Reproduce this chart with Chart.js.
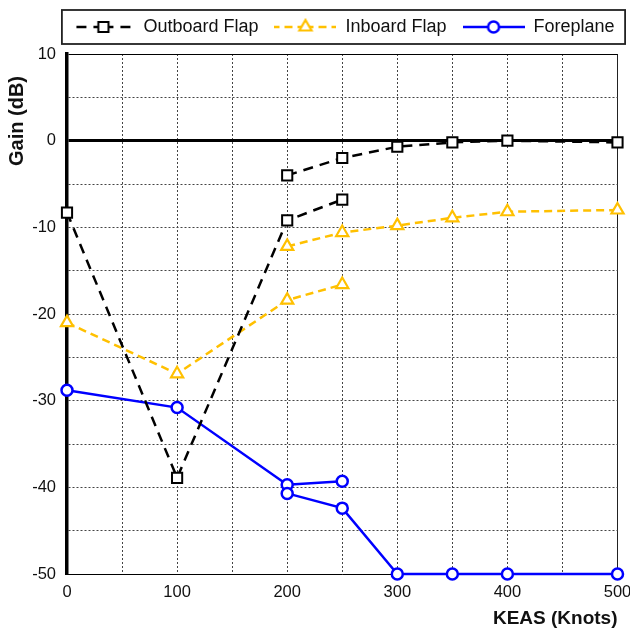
<!DOCTYPE html>
<html>
<head>
<meta charset="utf-8">
<script src="https://cdn.jsdelivr.net/npm/chart.js@4.4.1/dist/chart.umd.min.js"></script>
<style>
html,body{margin:0;padding:0;background:#fff;}
#wrap{width:630px;height:632px;position:relative;}
canvas{display:block;}
</style>
</head>
<body>
<div id="wrap"><canvas id="c"></canvas></div>
<script>
// ---- data ----
const seriesNames = ['Outboard Flap', 'Inboard Flap', 'Foreplane'];
const keasLow  = [0, 100, 200, 250];
const keasHigh = [200, 250, 300, 350, 400, 500];
const outboardLow   = [-8.3, -38.9, -9.2, -6.8];
const outboardHigh  = [-4.0, -2.0, -0.7, -0.2, 0.0, -0.2];
const inboardLow    = [-21.0, -26.9, -18.4, -16.6];
const inboardHigh   = [-12.2, -10.6, -9.8, -8.9, -8.2, -8.0];
const foreplaneLow  = [-28.8, -30.8, -39.7, -39.3];
const foreplaneHigh = [-40.7, -42.4, -50, -50, -50, -50];
const xTickValues = [0, 100, 200, 300, 400, 500];
const yTickValues = [10, 0, -10, -20, -30, -40, -50];
const xAxisTitle = 'KEAS (Knots)';
const yAxisTitle = 'Gain (dB)';

// ---- layout constants ----
const FONT = "'Liberation Sans', Arial, Helvetica, sans-serif";
const TICK_SIZE = 16.5;
const LEGEND_PAD = 16;
const LEGEND_CENTER = 343.5;
const LEGEND_ITEM_TOP = 18;
const Y_TITLE_SHIFT = 22;
const Y_AXIS_WIDTH = 67;
const X_AXIS_HEIGHT = 58;
const X_PAD_RIGHT = 12.5;

function branches(low, high) {
  const pts = keasLow.map((x, i) => ({x: x, y: low[i]}));
  pts.push({x: keasHigh[0], y: null});
  return pts.concat(keasHigh.map((x, i) => ({x: x, y: high[i]})));
}

const datasets = [
  {
    label: seriesNames[0],
    data: branches(outboardLow, outboardHigh),
    borderColor: '#000000', borderWidth: 2.5, borderDash: [10, 7],
    pointStyle: 'rect', pointRadius: 7.2, pointBorderWidth: 2,
    pointBackgroundColor: '#ffffff', pointBorderColor: '#000000'
  },
  {
    label: seriesNames[1],
    data: branches(inboardLow, inboardHigh),
    borderColor: '#FFC000', borderWidth: 2.5, borderDash: [8, 5],
    pointStyle: 'triangle', pointRadius: 7, pointBorderWidth: 2.2,
    pointBackgroundColor: '#ffffff', pointBorderColor: '#FFC000'
  },
  {
    label: seriesNames[2],
    data: branches(foreplaneLow, foreplaneHigh),
    borderColor: '#0000FF', borderWidth: 2.5, borderDash: [],
    pointStyle: 'circle', pointRadius: 5.5, pointBorderWidth: 2.5,
    pointBackgroundColor: '#ffffff', pointBorderColor: '#0000FF'
  }
];
datasets.forEach(d => { d.showLine = true; d.spanGaps = false; d.clip = false; d.fill = false; d.tension = 0; });

function legendSample(ds) {
  const w = 62, h = 18;
  const c = document.createElement('canvas');
  c.width = w; c.height = h;
  const g = c.getContext('2d');
  const cx = w / 2, cy = h / 2;
  g.strokeStyle = ds.borderColor; g.lineWidth = ds.borderWidth;
  g.setLineDash(ds.borderDash || []);
  g.beginPath(); g.moveTo(cx, cy); g.lineTo(0, cy); g.stroke();
  g.beginPath(); g.moveTo(cx, cy); g.lineTo(w, cy); g.stroke();
  g.setLineDash([]);
  g.fillStyle = ds.pointBackgroundColor;
  g.strokeStyle = ds.pointBorderColor;
  g.lineWidth = ds.pointBorderWidth;
  Chart.helpers.drawPoint(g, {pointStyle: ds.pointStyle, radius: ds.pointRadius, borderWidth: ds.pointBorderWidth, rotation: 0}, cx, cy);
  return c;
}

const layoutPlugin = {
  id: 'layoutTweaks',
  afterLayout(chart) {
    const lg = chart.legend;
    if (lg && lg.lineWidths && lg.lineWidths.length) {
      const p = lg.options.labels.padding;
      const lw = lg.lineWidths[0];
      const cur = (lg.left + p + lg.right - lw) / 2;
      const want = LEGEND_CENTER - (lw - p) / 2;
      const dx = want - cur;
      lg.left += dx; lg.right += dx;
      const dy = (LEGEND_ITEM_TOP - p) - lg.top;
      lg.top += dy; lg.bottom += dy;
    }
    const ys = chart.scales.y;
    if (ys && !ys.__shifted) {
      const orig = ys.drawTitle;
      ys.drawTitle = function () {
        const c = this.ctx; c.save(); c.translate(0, Y_TITLE_SHIFT);
        orig.apply(this, arguments); c.restore();
      };
      ys.__shifted = true;
    }
  },
  afterDraw(chart) {
    const lg = chart.legend;
    const hb = lg && lg.legendHitBoxes;
    if (!hb || !hb.length) return;
    const first = hb[0], last = hb[hb.length - 1];
    const ctx = chart.ctx;
    ctx.save();
    ctx.strokeStyle = '#222';
    ctx.lineWidth = 1.8;
    const x0 = first.left - 10.5, x1 = last.left + last.width + 10.5;
    const y0 = first.top - 8, y1 = first.top + first.height + 8;
    ctx.strokeRect(x0, y0, x1 - x0, y1 - y0);
    ctx.restore();
  }
};

new Chart(document.getElementById('c'), {
  type: 'scatter',
  data: {datasets: datasets},
  plugins: [layoutPlugin],
  options: {
    responsive: true,
    maintainAspectRatio: false,
    animation: false,
    layout: {autoPadding: false, padding: {top: 10, left: 0, right: 0, bottom: 0}},
    font: {family: FONT},
    plugins: {
      tooltip: {enabled: false},
      legend: {
        display: true,
        position: 'top',
        align: 'center',
        labels: {
          usePointStyle: true,
          pointStyleWidth: 62,
          padding: LEGEND_PAD,
          color: '#111',
          font: {family: FONT, size: 18},
          generateLabels(chart) {
            return chart.data.datasets.map((ds, i) => ({
              text: ds.label,
              datasetIndex: i,
              pointStyle: legendSample(ds),
              fillStyle: 'rgba(0,0,0,0)',
              strokeStyle: 'rgba(0,0,0,0)',
              lineWidth: 0,
              hidden: false,
              fontColor: '#111'
            }));
          }
        }
      }
    },
    scales: {
      x: {
        type: 'linear',
        position: 'bottom',
        min: 0, max: 500,
        afterFit(scale) { scale.height = X_AXIS_HEIGHT; scale.paddingRight = X_PAD_RIGHT; },
        ticks: {
          stepSize: 50, autoSkip: false, maxRotation: 0, padding: 9,
          color: '#111', font: {family: FONT, size: TICK_SIZE},
          callback: v => xTickValues.includes(v) ? String(v) : ''
        },
        grid: {
          drawTicks: false,
          color: ctx => (ctx.tick && ctx.tick.value === 500) ? '#222' : '#444',
          lineWidth: 1
        },
        border: {
          display: true, color: '#000', width: 1,
          dash: ctx => (ctx.tick && ctx.tick.value !== 500) ? [2, 2] : []
        },
        title: {
          display: true, text: xAxisTitle, align: 'end',
          color: '#111', font: {family: FONT, size: 19, weight: 'bold'},
          padding: {top: 0, bottom: 1.6}
        }
      },
      y: {
        type: 'linear',
        min: -50, max: 10,
        afterFit(scale) { scale.width = Y_AXIS_WIDTH; },
        ticks: {
          stepSize: 5, autoSkip: false, maxTicksLimit: 20, padding: 11,
          color: '#111', font: {family: FONT, size: TICK_SIZE},
          callback: v => yTickValues.includes(v) ? String(v) : ''
        },
        grid: {
          drawTicks: false,
          color: ctx => (ctx.tick && (ctx.tick.value === 0 || ctx.tick.value === 10)) ? '#000' : '#444',
          lineWidth: ctx => (ctx.tick && ctx.tick.value === 0) ? 3 : 1
        },
        border: {
          display: true, color: '#000', width: 3.5,
          dash: ctx => (ctx.tick && ctx.tick.value !== 0 && ctx.tick.value !== 10) ? [2, 2] : []
        },
        title: {
          display: true, text: yAxisTitle, align: 'end',
          color: '#111', font: {family: FONT, size: 20, weight: 'bold'},
          padding: {top: 5.5, bottom: 2}
        }
      }
    }
  }
});
</script>
</body>
</html>
